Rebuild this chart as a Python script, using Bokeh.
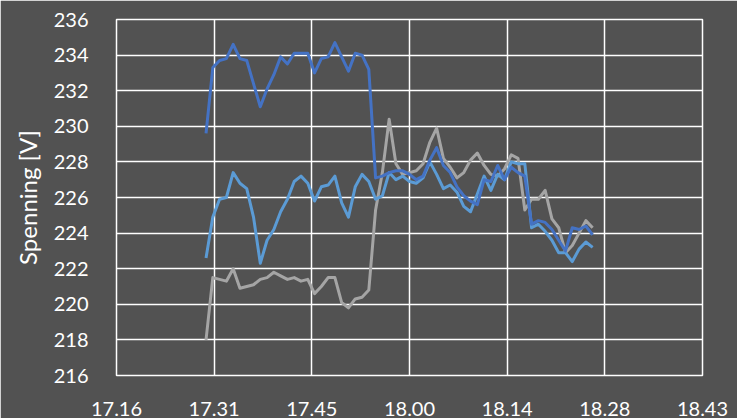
from bokeh.plotting import figure
from bokeh.models import FixedTicker, ColumnDataSource
from bokeh.embed import file_html
from bokeh.resources import INLINE

# Sampling times in minutes after midnight (one reading per minute, 17:30 - 18:27)
minutes = list(range(17 * 60 + 30, 18 * 60 + 28))

# Phase voltages [V]
fase_l1 = [229.6, 233.3, 233.7, 233.8, 234.6, 233.8, 233.7, 232.4, 231.1, 232.1,
           232.9, 233.9, 233.5, 234.1, 234.1, 234.1, 233.0, 233.8, 233.9, 234.7,
           233.9, 233.1, 234.1, 234.0, 233.2, 227.1, 227.2, 227.4, 227.5, 227.5,
           227.3, 227.0, 227.2, 228.1, 228.8, 227.8, 227.4, 226.6, 226.1, 225.8,
           225.6, 227.0, 226.9, 227.8, 227.0, 227.7, 227.4, 227.2, 224.5, 224.7,
           224.6, 224.2, 223.6, 223.0, 224.3, 224.2, 224.4, 223.9]
fase_l2 = [222.6, 224.9, 225.9, 226.0, 227.4, 226.8, 226.5, 224.9, 222.3, 223.6,
           224.2, 225.2, 225.9, 226.9, 227.2, 226.8, 225.8, 226.6, 226.7, 227.2,
           225.7, 224.9, 226.6, 227.3, 226.9, 225.9, 226.1, 227.4, 227.0, 227.2,
           226.9, 226.8, 227.1, 228.0, 227.3, 226.5, 226.7, 226.3, 225.5, 225.2,
           226.2, 227.2, 226.4, 227.3, 227.0, 228.0, 227.9, 227.9, 224.3, 224.5,
           224.1, 223.6, 222.9, 222.9, 222.4, 223.1, 223.5, 223.2]
fase_l3 = [218.0, 221.5, 221.4, 221.3, 222.0, 220.9, 221.0, 221.1, 221.4, 221.5,
           221.8, 221.6, 221.4, 221.5, 221.3, 221.4, 220.6, 221.0, 221.5, 221.5,
           220.1, 219.8, 220.3, 220.4, 220.8, 225.3, 227.4, 230.4, 227.9, 227.3,
           227.4, 227.5, 227.9, 229.1, 229.9, 228.2, 227.7, 227.1, 227.4, 228.1,
           228.5, 227.8, 227.3, 227.2, 227.6, 228.4, 228.2, 225.3, 225.9, 225.9,
           226.4, 224.8, 224.3, 222.9, 223.3, 224.0, 224.7, 224.3]

# Axis ticks: every 0.01 day (14.4 min) from 0.72 to 0.78
x_ticks = [1036.8, 1051.2, 1065.6, 1080.0, 1094.4, 1108.8, 1123.2]
x_tick_labels = ["17.16", "17.31", "17.45", "18.00", "18.14", "18.28", "18.43"]
y_ticks = [216, 218, 220, 222, 224, 226, 228, 230, 232, 234, 236]

BG = "#525252"
FONT = "Lato"

p = figure(width=737, height=418, output_backend="svg", toolbar_location=None,
           x_range=(x_ticks[0], x_ticks[-1]), y_range=(216, 236),
           min_border_left=116, min_border_right=35, min_border_top=19,
           min_border_bottom=43)

p.background_fill_color = BG
p.border_fill_color = BG
p.outline_line_color = "#ffffff"
p.outline_line_width = 1.5

src = ColumnDataSource(dict(t=minutes, l1=fase_l1, l2=fase_l2, l3=fase_l3))
for col, color in (("l3", "#A5A5A5"), ("l2", "#5B9BD5"), ("l1", "#4472C4")):
    p.line("t", col, source=src, line_color=color, line_width=3,
           line_join="round")

for ax in (p.xaxis[0], p.yaxis[0]):
    ax.axis_line_color = None
    ax.major_tick_line_color = None
    ax.minor_tick_line_color = None
    ax.major_label_text_font = FONT
    ax.major_label_text_font_size = "20px"
    ax.major_label_text_color = "#ffffff"

p.xaxis[0].ticker = FixedTicker(ticks=x_ticks)
p.xaxis[0].major_label_overrides = {t: s for t, s in zip(x_ticks, x_tick_labels)}
p.xaxis[0].major_label_standoff = 20

p.yaxis[0].ticker = FixedTicker(ticks=y_ticks)
p.yaxis[0].major_label_standoff = 22
p.yaxis[0].axis_label = "Spenning [V]"
p.yaxis[0].axis_label_text_font = FONT
p.yaxis[0].axis_label_text_font_size = "24px"
p.yaxis[0].axis_label_text_font_style = "normal"
p.yaxis[0].axis_label_text_color = "#ffffff"
p.yaxis[0].axis_label_standoff = 9

for g in (p.xgrid[0], p.ygrid[0]):
    g.grid_line_color = "#ffffff"
    g.grid_line_width = 1.5

open("out.html", "w").write(file_html(p, INLINE))
